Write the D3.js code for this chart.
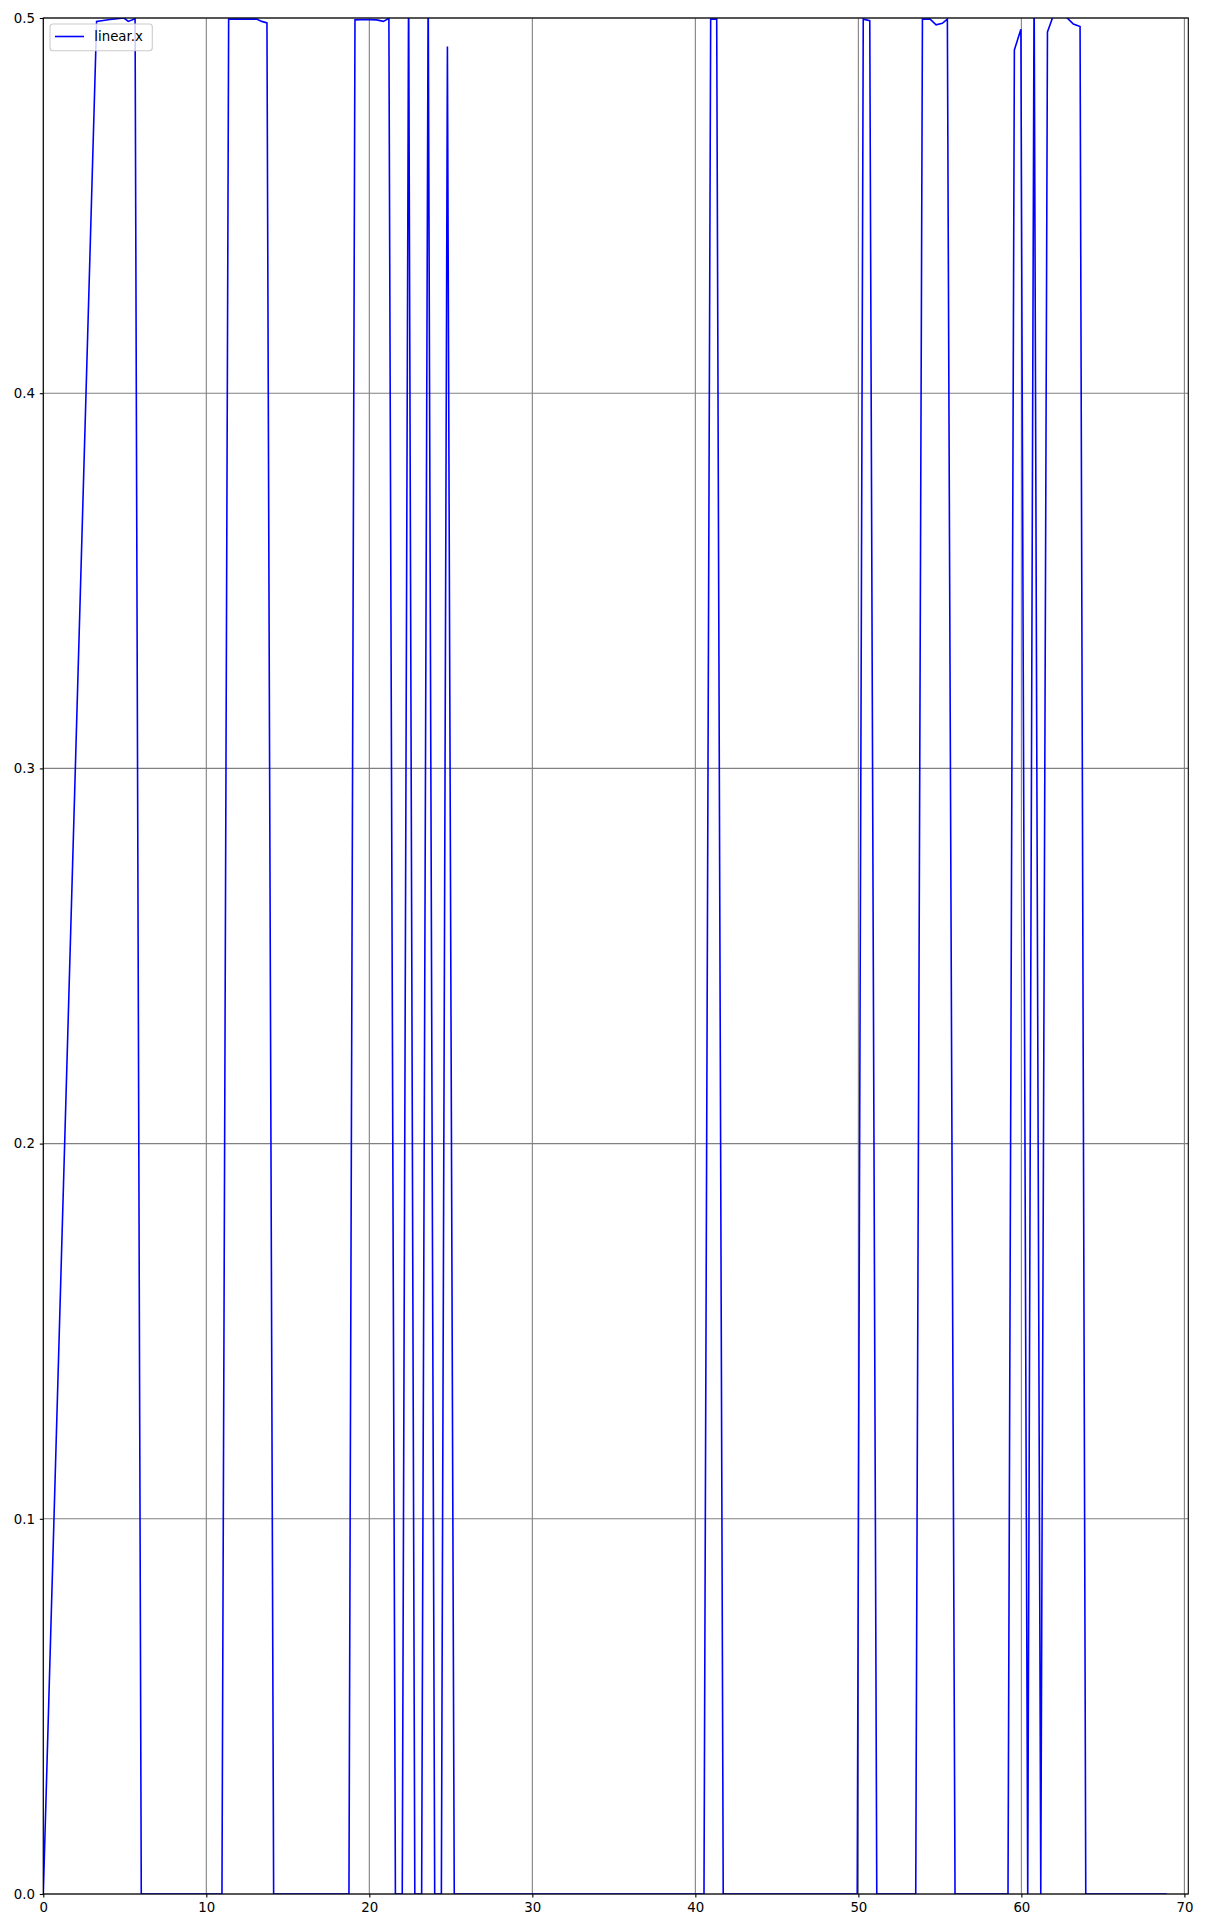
<!DOCTYPE html>
<html>
<head>
<meta charset="utf-8">
<script src="https://cdn.jsdelivr.net/npm/d3@7"></script>
<style>
  html, body { margin: 0; padding: 0; background: #ffffff; }
  text { font-family: "DejaVu Sans", sans-serif; }
</style>
</head>
<body>
<svg id="chart" width="1205" height="1924"></svg>
<script>
// ---- data ----
const seriesName = "linear.x";
const timeX = [0, 3.27, 4.09, 4.95, 5.21, 5.63, 6.01,
  10.96, 11.37, 13.09, 13.4, 13.72, 14.13,
  18.75, 19.12, 19.74, 20.45, 20.86, 21.2, 21.6,
  22.02, 22.41, 22.79, 23.21, 23.61, 24.01, 24.42, 24.79, 25.21,
  40.53, 40.94, 41.31, 41.71,
  49.93, 50.3, 50.7, 51.13,
  53.52, 53.93, 54.4, 54.77, 55.15, 55.46, 55.93,
  59.18, 59.57, 59.97, 60.39, 60.78, 61.19, 61.6, 61.99, 62.4, 62.79, 63.19, 63.6, 63.95,
  68.92];
const valueY = [0, 0.4991, 0.4996, 0.5, 0.4991, 0.4998, 0,
  0, 0.4997, 0.4997, 0.4991, 0.4987, 0,
  0, 0.4995, 0.4996, 0.4995, 0.4991, 0.4999, 0,
  0, 0.51, 0, 0, 0.51, 0, 0, 0.4924, 0,
  0, 0.4997, 0.4997, 0,
  0, 0.4997, 0.4993, 0,
  0, 0.4997, 0.4997, 0.4982, 0.4986, 0.4997, 0,
  0, 0.4915, 0.497, 0, 0.51, 0, 0.4963, 0.501, 0.502, 0.5001, 0.4984, 0.4977, 0,
  0];
const xTicks = [0, 10, 20, 30, 40, 50, 60, 70];
const yTicks = [0.0, 0.1, 0.2, 0.3, 0.4, 0.5];
const xDomain = [0, 70.24];
const yDomain = [0, 0.5];

// ---- layout ----
const plotL = 43.3, plotR = 1188.3, plotT = 18, plotB = 1894;
const svg = d3.select("#chart");

const x = d3.scaleLinear().domain(xDomain).range([plotL, plotR]);
const y = d3.scaleLinear().domain(yDomain).range([plotB, plotT]);

svg.append("rect").attr("x", 0).attr("y", 0).attr("width", 1205).attr("height", 1924).attr("fill", "#ffffff");

// grid
const grid = svg.append("g");
grid.selectAll("line.vx").data(xTicks).enter().append("line")
  .attr("x1", d => x(d)).attr("x2", d => x(d))
  .attr("y1", plotT).attr("y2", plotB)
  .attr("stroke", "#808080").attr("stroke-width", 1.1);
grid.selectAll("line.hy").data(yTicks).enter().append("line")
  .attr("y1", d => y(d)).attr("y2", d => y(d))
  .attr("x1", plotL).attr("x2", plotR)
  .attr("stroke", "#808080").attr("stroke-width", 1.1);

// clip
svg.append("clipPath").attr("id", "clip").append("rect")
  .attr("x", plotL).attr("y", plotT).attr("width", plotR - plotL).attr("height", plotB - plotT);

const pts = timeX.map((t, i) => [t, valueY[i]]);
const line = d3.line().x(d => x(d[0])).y(d => y(d[1]));
svg.append("path").datum(pts)
  .attr("clip-path", "url(#clip)")
  .attr("d", line)
  .attr("fill", "none").attr("stroke", "#0000ff").attr("stroke-width", 1.6)
  .attr("stroke-linejoin", "miter");

// axes
const xAxis = d3.axisBottom(x).tickValues(xTicks).tickFormat(d3.format("d")).tickSize(3.5).tickPadding(4.9);
const yAxis = d3.axisLeft(y).tickValues(yTicks).tickFormat(d3.format(".1f")).tickSize(3.5).tickPadding(4.9);
const gx = svg.append("g").attr("transform", `translate(0,${plotB})`).call(xAxis);
const gy = svg.append("g").attr("transform", `translate(${plotL},0)`).call(yAxis);
[gx, gy].forEach(g => {
  g.select(".domain").remove();
  g.selectAll(".tick line").attr("stroke", "#000").attr("stroke-width", 1.1);
  g.selectAll(".tick text").attr("fill", "#000").style("font-size", "13.33px").style("font-family", "DejaVu Sans, sans-serif");
});

// frame
svg.append("rect").attr("x", plotL).attr("y", plotT).attr("width", plotR - plotL).attr("height", plotB - plotT)
  .attr("fill", "none").attr("stroke", "#000").attr("stroke-width", 1.1);

// legend
const lg = svg.append("g");
lg.append("rect").attr("x", 50).attr("y", 24).attr("width", 102.3).attr("height", 26.7)
  .attr("rx", 3).attr("ry", 3)
  .attr("fill", "#ffffff").attr("fill-opacity", 0.8)
  .attr("stroke", "#cccccc").attr("stroke-width", 1.1);
lg.append("line").attr("x1", 55).attr("x2", 84).attr("y1", 36.5).attr("y2", 36.5)
  .attr("stroke", "#0000ff").attr("stroke-width", 1.6);
lg.append("text").attr("x", 94.3).attr("y", 41.3).text(seriesName)
  .style("font-size", "13.33px").attr("fill", "#000");
</script>
</body>
</html>
